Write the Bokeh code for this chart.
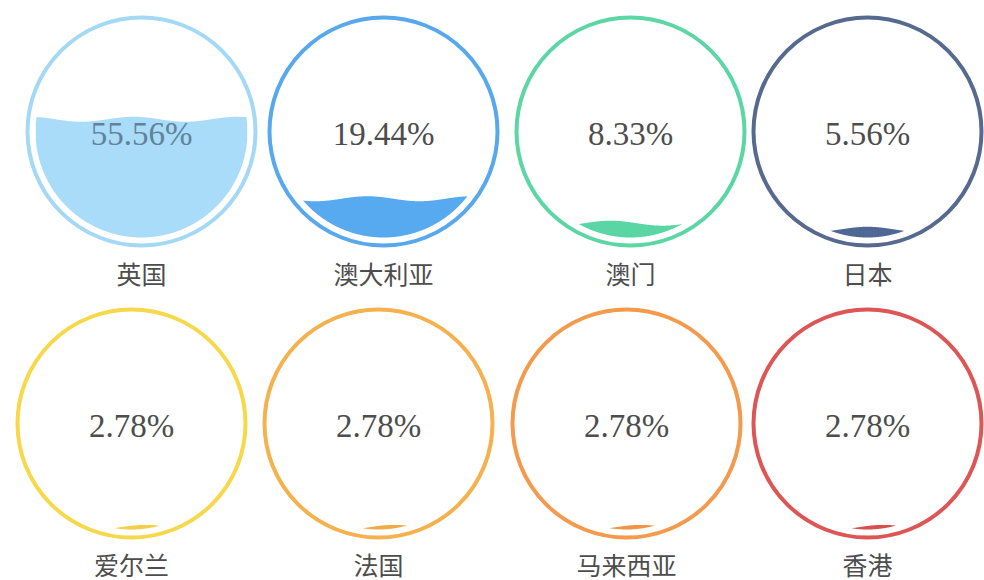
import numpy as np
from bokeh.plotting import figure
from bokeh.models import Range1d
from bokeh.core.properties import value
from bokeh.embed import file_html
from bokeh.resources import INLINE

# ---------------- data ----------------
names = ["英国", "澳大利亚", "澳门", "日本", "爱尔兰", "法国", "马来西亚", "香港"]
shares = [55.56, 19.44, 8.33, 5.56, 2.78, 2.78, 2.78, 2.78]

# ---------------- style / layout ----------------
ring_colors = ["#a4d9f6", "#58a8ee", "#5cd6a5", "#56698f",
               "#f6d84a", "#f4b14e", "#f39a4c", "#dd5555"]
fill_colors = ["#a8dcf8", "#58aaf0", "#5ad6a4", "#4f6794",
               "#f3cf45", "#f0ab47", "#f09447", "#d94f4f"]
col_x = [[141, 383, 630, 867], [131, 378, 626, 867]]
row_y = [131, 423]
name_dy = [141, 140]
peak_offset = [-8, -16, -20, 0, 14, 16, 14, 16]
RING_R = 114
FILL_R = 106
LEVEL_R = 110
AMP = 2.5
WAVELEN = 104
OUT_TEXT = "#4d4d4d"
IN_TEXT = "#62829c"

W, H = 984, 580
p = figure(width=W, height=H, x_range=Range1d(0, W), y_range=Range1d(H, 0),
           x_axis_type=None, y_axis_type=None, toolbar_location=None,
           output_backend="svg", min_border=0, outline_line_color=None,
           background_fill_color="white", border_fill_color="white")
p.xgrid.visible = False
p.ygrid.visible = False

cxs, cys, nys = [], [], []
for i in range(len(names)):
    r, c = divmod(i, 4)
    cxs.append(col_x[r][c])
    cys.append(row_y[r])
    nys.append(row_y[r] + name_dy[r])

# liquid fill
for i, v in enumerate(shares):
    cx, cy = cxs[i], cys[i]
    xs = np.linspace(cx - FILL_R, cx + FILL_R, 600)
    h = np.sqrt(np.maximum(FILL_R ** 2 - (xs - cx) ** 2, 0))
    top_c = cy - h
    bot_c = cy + h
    level = cy + LEVEL_R - (v / 100.0) * 2 * LEVEL_R
    wave = level - AMP * np.cos(2 * np.pi * (xs - (cx + peak_offset[i])) / WAVELEN)
    upper = np.maximum(wave, top_c)
    mask = upper < bot_c
    idx = np.where(mask)[0]
    if len(idx) == 0:
        continue
    segs = np.split(idx, np.where(np.diff(idx) > 1)[0] + 1)
    pxs, pys = [], []
    for s in segs:
        if len(s) < 2:
            continue
        pxs.append(list(xs[s]) + list(xs[s][::-1]))
        pys.append(list(upper[s]) + list(bot_c[s][::-1]))
    if pxs:
        p.patches(pxs, pys, fill_color=fill_colors[i], line_color=None)

# outer rings
p.circle(x=cxs, y=cys, radius=RING_R, fill_color=None, line_color=ring_colors,
         line_width=4)

# percentage labels
pct_text = [f"{v:.2f}%" for v in shares]
text_cols = []
for i, v in enumerate(shares):
    level = cys[i] + LEVEL_R - (v / 100.0) * 2 * LEVEL_R
    text_cols.append(IN_TEXT if level < cys[i] else OUT_TEXT)
p.text(x=cxs, y=[y + 2 for y in cys], text=pct_text, text_color=text_cols,
       text_font=value("Liberation Serif"), text_font_size="33px",
       text_align="center", text_baseline="middle")

# name labels
p.text(x=cxs, y=nys, text=names, text_color=OUT_TEXT,
       text_font=value("Noto Sans CJK SC"), text_font_size="25px",
       text_align="center", text_baseline="middle")

open("out.html", "w").write(file_html(p, INLINE))
